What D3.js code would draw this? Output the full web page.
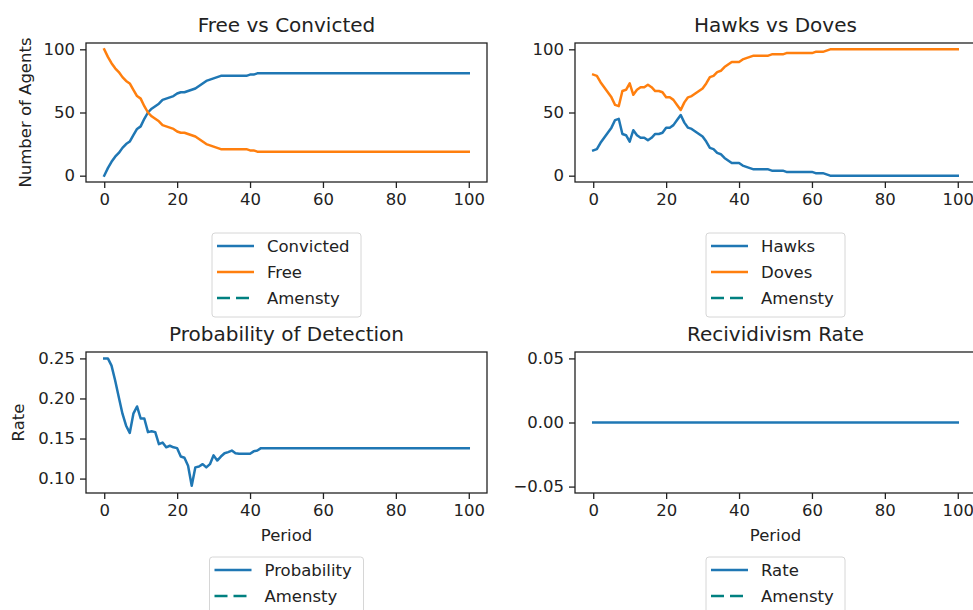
<!DOCTYPE html>
<html>
<head>
<meta charset="utf-8">
<script src="https://cdn.jsdelivr.net/npm/d3@7"></script>
<style>
  body { margin: 0; background: #fff; }
  svg { display: block; font-family: "DejaVu Sans", sans-serif; }
</style>
</head>
<body>
<svg id="chart" width="973" height="610"></svg>
<script>
const periods = d3.range(0, 101);

const convicted = [0, 6, 11, 15, 18, 22, 25, 27, 32, 37, 39, 45, 50, 53, 55, 57, 60, 61, 62, 63,
  65, 66, 66, 67, 68, 69, 71, 73, 75, 76, 77, 78, 79, 79, 79, 79, 79, 79, 79, 79,
  80, 80, 81, 81, 81, 81, 81, 81, 81, 81, 81, 81, 81, 81, 81, 81, 81, 81, 81, 81,
  81, 81, 81, 81, 81, 81, 81, 81, 81, 81, 81, 81, 81, 81, 81, 81, 81, 81, 81, 81,
  81, 81, 81, 81, 81, 81, 81, 81, 81, 81, 81, 81, 81, 81, 81, 81, 81, 81, 81, 81, 81];
const free = [100, 94, 89, 85, 82, 78, 75, 73, 68, 63, 61, 55, 50, 47, 45, 43, 40, 39, 38, 37,
  35, 34, 34, 33, 32, 31, 29, 27, 25, 24, 23, 22, 21, 21, 21, 21, 21, 21, 21, 21,
  20, 20, 19, 19, 19, 19, 19, 19, 19, 19, 19, 19, 19, 19, 19, 19, 19, 19, 19, 19,
  19, 19, 19, 19, 19, 19, 19, 19, 19, 19, 19, 19, 19, 19, 19, 19, 19, 19, 19, 19,
  19, 19, 19, 19, 19, 19, 19, 19, 19, 19, 19, 19, 19, 19, 19, 19, 19, 19, 19, 19, 19];

const hawks = [20, 21, 26, 30, 34, 38, 44, 45, 33, 32, 27, 36, 32, 30, 30, 28, 30, 33, 33, 34,
  38, 38, 40, 44, 48, 42, 38, 37, 35, 33, 31, 27, 22, 21, 18, 17, 14, 12, 10, 10,
  10, 8, 7, 6, 5, 5, 5, 5, 5, 4, 4, 4, 4, 3, 3, 3, 3, 3, 3, 3,
  3, 2, 2, 2, 1, 0, 0, 0, 0, 0, 0, 0, 0, 0, 0, 0, 0, 0, 0, 0,
  0, 0, 0, 0, 0, 0, 0, 0, 0, 0, 0, 0, 0, 0, 0, 0, 0, 0, 0, 0, 0];
const doves = [80, 79, 74, 70, 66, 62, 56, 55, 67, 68, 73, 64, 68, 70, 70, 72, 70, 67, 67, 66,
  62, 62, 60, 56, 52, 58, 62, 63, 65, 67, 69, 73, 78, 79, 82, 83, 86, 88, 90, 90,
  90, 92, 93, 94, 95, 95, 95, 95, 95, 96, 96, 96, 96, 97, 97, 97, 97, 97, 97, 97,
  97, 98, 98, 98, 99, 100, 100, 100, 100, 100, 100, 100, 100, 100, 100, 100, 100, 100, 100, 100,
  100, 100, 100, 100, 100, 100, 100, 100, 100, 100, 100, 100, 100, 100, 100, 100, 100, 100, 100, 100, 100];

const probability = [0.25, 0.25, 0.241, 0.2225, 0.2016, 0.181, 0.166, 0.157, 0.181, 0.19,
  0.175, 0.175, 0.158, 0.159, 0.158, 0.143, 0.145, 0.139, 0.141, 0.139,
  0.138, 0.1275, 0.126, 0.116, 0.091, 0.114, 0.115, 0.118, 0.114, 0.118,
  0.129, 0.1225, 0.1275, 0.1316, 0.133, 0.135, 0.1316, 0.131, 0.131, 0.131,
  0.131, 0.134, 0.135, 0.138, 0.138, 0.138, 0.138, 0.138, 0.138, 0.138,
  0.138, 0.138, 0.138, 0.138, 0.138, 0.138, 0.138, 0.138, 0.138, 0.138,
  0.138, 0.138, 0.138, 0.138, 0.138, 0.138, 0.138, 0.138, 0.138, 0.138,
  0.138, 0.138, 0.138, 0.138, 0.138, 0.138, 0.138, 0.138, 0.138, 0.138,
  0.138, 0.138, 0.138, 0.138, 0.138, 0.138, 0.138, 0.138, 0.138, 0.138,
  0.138, 0.138, 0.138, 0.138, 0.138, 0.138, 0.138, 0.138, 0.138, 0.138, 0.138];

const recidivism = periods.map(() => 0);

const xTicks = [0, 20, 40, 60, 80, 100];

const BLUE = '#1f77b4';
const ORANGE = '#ff7f0e';
const TEAL = '#008080';
const FONT = 16.5;

const svg = d3.select('#chart');

const panels = [
  {
    title: 'Free vs Convicted', box: [86, 43, 487, 182], yDomain: [-5, 105],
    yTicks: [0, 50, 100], yFmt: d3.format('d'), yLabel: 'Number of Agents', yLabelX: 25,
    xLabel: null,
    series: [{ values: convicted, color: BLUE }, { values: free, color: ORANGE }],
    legend: [{ name: 'Convicted', color: BLUE }, { name: 'Free', color: ORANGE }, { name: 'Amensty', color: TEAL, dash: true }],
    legendTop: 233, legendWidth: 149,
  },
  {
    title: 'Hawks vs Doves', box: [575, 43, 976, 182], yDomain: [-5, 105],
    yTicks: [0, 50, 100], yFmt: d3.format('d'), yLabel: null,
    xLabel: null,
    series: [{ values: hawks, color: BLUE }, { values: doves, color: ORANGE }],
    legend: [{ name: 'Hawks', color: BLUE }, { name: 'Doves', color: ORANGE }, { name: 'Amensty', color: TEAL, dash: true }],
    legendTop: 233, legendWidth: 139,
  },
  {
    title: 'Probability of Detection', box: [86, 352, 487, 493], yDomain: [0.082, 0.258],
    yTicks: [0.10, 0.15, 0.20, 0.25], yFmt: d3.format('.2f'), yLabel: 'Rate', yLabelX: 18,
    xLabel: 'Period',
    series: [{ values: probability, color: BLUE }],
    legend: [{ name: 'Probability', color: BLUE }, { name: 'Amensty', color: TEAL, dash: true }],
    legendTop: 557, legendWidth: 154,
  },
  {
    title: 'Recividivism Rate', box: [575, 352, 976, 493], yDomain: [-0.055, 0.055],
    yTicks: [-0.05, 0, 0.05], yFmt: d3.format('.2f'), yLabel: null,
    xLabel: 'Period',
    series: [{ values: recidivism, color: BLUE }],
    legend: [{ name: 'Rate', color: BLUE }, { name: 'Amensty', color: TEAL, dash: true }],
    legendTop: 557, legendWidth: 139,
  },
];

function drawPanel(p) {
  const [x0, y0, x1, y1] = p.box;
  const xScale = d3.scaleLinear().domain([-5, 105]).range([x0, x1]);
  const yScale = d3.scaleLinear().domain(p.yDomain).range([y1, y0]);
  const g = svg.append('g');

  const line = d3.line().x((d, i) => xScale(periods[i])).y((d) => yScale(d));
  p.series.forEach((s) => {
    g.append('path')
      .datum(s.values)
      .attr('d', line)
      .attr('fill', 'none')
      .attr('stroke', s.color)
      .attr('stroke-width', 2.5)
      .attr('stroke-linejoin', 'round')
      .attr('stroke-linecap', 'square');
  });

  const xAxis = g.append('g')
    .attr('transform', `translate(0,${y1})`)
    .call(d3.axisBottom(xScale).tickValues(xTicks).tickSize(6).tickPadding(5));
  const yAxis = g.append('g')
    .attr('transform', `translate(${x0},0)`)
    .call(d3.axisLeft(yScale).tickValues(p.yTicks).tickFormat(p.yFmt).tickSize(6).tickPadding(5));
  [xAxis, yAxis].forEach((a) => {
    a.select('.domain').remove();
    a.selectAll('line').attr('stroke', '#222').attr('stroke-width', 1.3);
    a.selectAll('text').attr('fill', '#222').style('font-size', `${FONT}px`).style('font-family', '"DejaVu Sans"');
  });

  g.append('rect')
    .attr('x', x0).attr('y', y0)
    .attr('width', x1 - x0).attr('height', y1 - y0)
    .attr('fill', 'none').attr('stroke', '#222').attr('stroke-width', 1.3);

  g.append('text')
    .attr('x', (x0 + x1) / 2).attr('y', y0 - 11)
    .attr('text-anchor', 'middle')
    .attr('fill', '#222')
    .style('font-size', '20px')
    .text(p.title);

  if (p.yLabel) {
    g.append('text')
      .attr('transform', `translate(${p.yLabelX},${(y0 + y1) / 2}) rotate(-90)`)
      .attr('text-anchor', 'middle')
      .attr('dominant-baseline', 'central')
      .attr('fill', '#222')
      .style('font-size', `${FONT}px`)
      .text(p.yLabel);
  }
  if (p.xLabel) {
    g.append('text')
      .attr('x', (x0 + x1) / 2).attr('y', y1 + 48)
      .attr('text-anchor', 'middle')
      .attr('fill', '#222')
      .style('font-size', `${FONT}px`)
      .text(p.xLabel);
  }

  // legend under the axes
  const cx = x0 + (Math.min(x1, 976) - x0) / 2;
  const lx = cx - p.legendWidth / 2;
  const rowH = 26;
  const lg = g.append('g').attr('transform', `translate(${lx},${p.legendTop})`);
  lg.append('rect')
    .attr('width', p.legendWidth)
    .attr('height', p.legend.length * rowH + 6)
    .attr('rx', 3)
    .attr('fill', '#fff')
    .attr('stroke', '#d6d6d6')
    .attr('stroke-width', 1);
  p.legend.forEach((item, i) => {
    const y = 13 + i * rowH;
    lg.append('line')
      .attr('x1', 5).attr('x2', 42).attr('y1', y).attr('y2', y)
      .attr('stroke', item.color).attr('stroke-width', 2.5)
      .attr('stroke-dasharray', item.dash ? '13,6' : null);
    lg.append('text')
      .attr('x', 55).attr('y', y)
      .attr('dominant-baseline', 'central')
      .attr('fill', '#222')
      .style('font-size', `${FONT}px`)
      .text(item.name);
  });
}

panels.forEach(drawPanel);
</script>
</body>
</html>
